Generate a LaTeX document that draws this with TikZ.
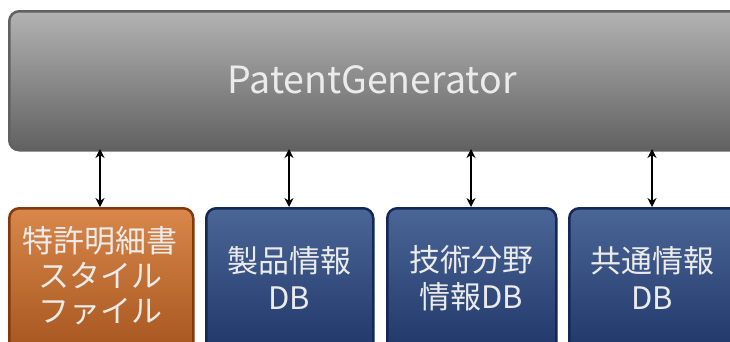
\documentclass[tikz,border=0pt]{standalone}
\usepackage{fontspec}
\setmainfont{Noto Sans CJK JP}
\usetikzlibrary{arrows.meta}
\definecolor{txt}{HTML}{EBEBEB}
\tikzset{
  x=1pt,y=-1pt,
  topbox/.style={draw=black!62, line width=2.5pt, rounded corners=10pt, top color=black!30, bottom color=black!62, anchor=north west, inner sep=0pt},
  orangebox/.style={draw={rgb,255:red,130;green,58;blue,12}, line width=2.5pt, rounded corners=10pt, top color={rgb,255:red,217;green,135;blue,74}, bottom color={rgb,255:red,160;green,80;blue,26}, anchor=north west, inner sep=0pt},
  bluebox/.style={draw={rgb,255:red,20;green,40;blue,85}, line width=2.5pt, rounded corners=10pt, top color={rgb,255:red,74;green,102;blue,150}, bottom color={rgb,255:red,28;green,50;blue,100}, anchor=north west, inner sep=0pt},
  lbl/.style={text=txt, font=\fontsize{31}{37}\selectfont, align=center},
  link/.style={{Stealth[length=9pt,width=9pt]}-{Stealth[length=9pt,width=9pt]}, line width=2pt, black},
}
\begin{document}
\begin{tikzpicture}
\useasboundingbox (0,0) rectangle (730,341);
\node[topbox, minimum width=740pt, minimum height=139pt] (gen) at (8,10) {};
\node[text=txt, font=\fontsize{37.5}{44}\selectfont] at (372,80) {PatentGenerator};
\node[orangebox, minimum width=184pt, minimum height=160pt] (b1) at (8,207) {};
\node[bluebox, minimum width=167pt, minimum height=160pt] (b2) at (205,207) {};
\node[bluebox, minimum width=169pt, minimum height=160pt] (b3) at (386,207) {};
\node[bluebox, minimum width=175pt, minimum height=160pt] (b4) at (568,207) {};
\node[lbl] (t1) at (100,276) {特許明細書\\[-2pt]スタイル\\[-2pt]ファイル};
\node[lbl] (t2) at (289,278) {製品情報\\DB};
\node[lbl] (t3) at (471,278) {技術分野\\情報DB};
\node[lbl] (t4) at (652,278) {共通情報\\DB};
\coordinate (g1) at (100,149); \coordinate (c1) at (100,207);
\coordinate (g2) at (289,149); \coordinate (c2) at (289,207);
\coordinate (g3) at (471,149); \coordinate (c3) at (471,207);
\coordinate (g4) at (652,149); \coordinate (c4) at (652,207);
\draw[link] (g1) -- (c1);
\draw[link] (g2) -- (c2);
\draw[link] (g3) -- (c3);
\draw[link] (g4) -- (c4);
\end{tikzpicture}
\end{document}
